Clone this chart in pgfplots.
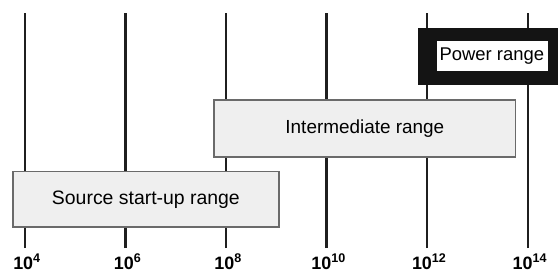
\documentclass[border={0bp 1.5bp 0bp 0bp}]{standalone}
\usepackage{pgfplots}
\pgfplotsset{compat=1.18}
\usepackage{fontspec}
\setmainfont{Liberation Sans}
\definecolor{boxfill}{HTML}{EFEFEF}
\definecolor{boxline}{HTML}{6A6A6A}
\newcommand\tl[1]{{\fontsize{18}{18}\selectfont\bfseries 10\textsuperscript{#1}}}
\begin{document}
\begin{tikzpicture}
\begin{axis}[
  scale only axis,
  width=558bp, height=248bp,
  xmin=3.503, xmax=14.597,
  ymin=2, ymax=250,
  clip=false,
  axis line style={draw=none},
  ytick=\empty,
  xtick={4,6,8,10,12,14},
  xticklabels={\tl{4},\tl{6},\tl{8},\tl{10},\tl{12},\tl{14}},
  major tick length=0pt,
  xticklabel style={inner sep=0pt, anchor=base, yshift=-21bp, xshift=2bp},
]
% vertical lines
\addplot[black!88, line width=2.4bp] coordinates {(4,2) (4,237)};
\addplot[black!88, line width=2.4bp] coordinates {(6,2) (6,237)};
\addplot[black!88, line width=2.4bp] coordinates {(8,2) (8,237)};
\addplot[black!88, line width=2.4bp] coordinates {(10,2) (10,237)};
\addplot[black!88, line width=2.4bp] coordinates {(12,2) (12,237)};
\addplot[black!88, line width=2.4bp] coordinates {(14,2) (14,237)};
% Source start-up range
\addplot[fill=boxfill, draw=boxline, line width=1.3bp] coordinates {(3.76,23) (9.05,23) (9.05,78.5) (3.76,78.5)} -- cycle;
\node[font=\fontsize{19.5}{19.5}\selectfont] at (axis cs:6.405,50.5) {Source start-up range};
% Intermediate range
\addplot[fill=boxfill, draw=boxline, line width=1.3bp] coordinates {(7.76,93) (13.76,93) (13.76,150) (7.76,150)} -- cycle;
\node[font=\fontsize{19}{19}\selectfont] at (axis cs:10.76,121.5) {Intermediate range};
% Power range
\addplot[fill=black!92, draw=black!92] coordinates {(11.82,166) (14.597,166) (14.597,222) (11.82,222)} -- cycle;
\addplot[fill=white, draw=white] coordinates {(12.19,179.5) (14.38,179.5) (14.38,209) (12.19,209)} -- cycle;
\node[font=\fontsize{18.5}{18.5}\selectfont] at (axis cs:13.285,194) {Power range};
\end{axis}
\end{tikzpicture}
\end{document}
